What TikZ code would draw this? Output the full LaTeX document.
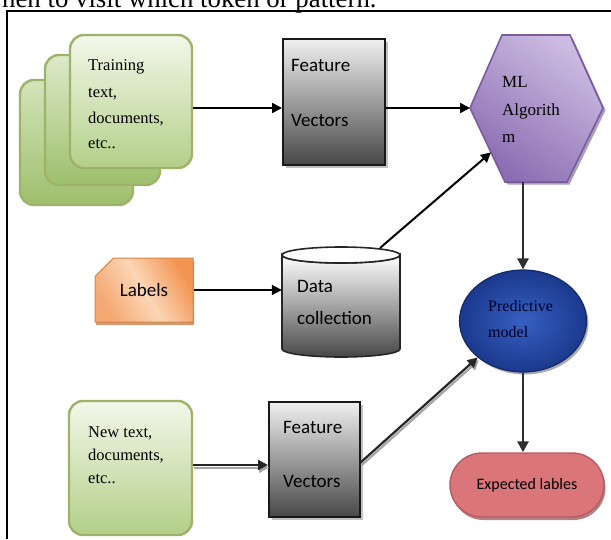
\documentclass[tikz,border=0pt]{standalone}
\usepackage{fontspec}
\setmainfont{Liberation Serif}
\newfontfamily\calfont{Carlito}
\usetikzlibrary{arrows.meta,shadows,shapes.geometric,shapes.misc,calc}

\definecolor{cardedge}{HTML}{9FB26A}
\definecolor{cardtop}{HTML}{F3F7EA}
\definecolor{cardbot}{HTML}{B3CF88}
\definecolor{backtop}{HTML}{D3E4BA}
\definecolor{backbot}{HTML}{9EBF6C}
\definecolor{hexlight}{HTML}{CDBCE2}
\definecolor{hexdark}{HTML}{8B6DB2}
\definecolor{hexedge}{HTML}{7A5C9E}
\definecolor{laborange}{HTML}{F29452}
\definecolor{labpeach}{HTML}{FBD6B6}
\definecolor{labedge}{HTML}{D98544}
\definecolor{pmin}{HTML}{3660C2}
\definecolor{pmout}{HTML}{1B398D}
\definecolor{pmedge}{HTML}{14296A}
\definecolor{elred}{HTML}{DA7679}
\definecolor{ellight}{HTML}{F6CFCF}
\definecolor{eledge}{HTML}{B85B5E}

\tikzset{
  conn/.style={line width=2pt, black, -{Triangle[length=10pt,width=10pt]}},
  vconn/.style={line width=2.5pt, black!82, -{Triangle[length=11pt,width=11pt]}},
  dconn/.style={line width=2.2pt, black!85, -{Triangle[length=10pt,width=10pt]},
    preaction={draw, line width=2.2pt, black!35, -{Triangle[length=10pt,width=10pt]},
      transform canvas={xshift=1.2pt, yshift=-2.6pt}}},
  serif/.style={font=\fontsize{16.5}{20}\selectfont, anchor=base west, inner sep=0pt},
  sans/.style={font=\calfont\fontsize{19}{22}\selectfont, anchor=base west, inner sep=0pt},
  card/.style={rectangle, rounded corners=14pt, draw=cardedge, line width=2.4pt,
    top color=cardtop, bottom color=cardbot, inner sep=0pt},
  backcard/.style={card, top color=backtop, bottom color=backbot},
  fvbox/.style={rectangle, draw=black!90, line width=2pt, inner sep=0pt,
    top color=black!6, middle color=black!32, bottom color=black!72,
    drop shadow={shadow xshift=3pt, shadow yshift=-3pt, fill=black!30, opacity=0.8}},
}

\begin{document}
\begin{tikzpicture}[x=1pt, y=-1pt]
\useasboundingbox (0,0) rectangle (611,539);
\begin{scope}
\clip (0,0) rectangle (611,539);

% running text of the page above the figure
\node[anchor=base west, inner sep=0pt, font=\fontsize{26.8}{30}\selectfont] (runtext) at (2,7)
  {hen to visit which token or pattern.};

% figure frame
\draw[line width=2pt] (7,539) -- (7,11) -- (611,11);

% ---------- training documents (stack of cards) ----------
\node[backcard, minimum width=113pt, minimum height=125pt] (card3) at (76.5,142.5) {};
\node[backcard, minimum width=115pt, minimum height=130pt,
      top color=backtop!70!cardtop] (card2) at (102.5,120) {};
\node[card, minimum width=122pt, minimum height=133pt] (card1) at (131,101.5) {};
\node[serif] (tr1) at (88,70) {Training};
\node[serif] (tr2) at (88,97) {text,};
\node[serif] (tr3) at (88,123) {documents,};
\node[serif] (tr4) at (88,148) {etc..};

% ---------- feature vectors (training) ----------
\node[fvbox, minimum width=102pt, minimum height=126pt] (fv1) at (334,102) {};
\node[sans] (fv1a) at (291,71) {Feature};
\node[sans] (fv1b) at (291,126) {Vectors};

% ---------- ML algorithm hexagon ----------
\coordinate (hl)  at (470,108);
\coordinate (htl) at (502,35);
\coordinate (htr) at (570,35);
\coordinate (hr)  at (603,108);
\coordinate (hbr) at (567,182);
\coordinate (hbl) at (505,182);
\fill[hexedge!80!black, opacity=0.55, transform canvas={xshift=2.5pt, yshift=-2.5pt}]
  (hl) -- (htl) -- (htr) -- (hr) -- (hbr) -- (hbl) -- cycle;
\shade[top color=hexlight, bottom color=hexdark, shading angle=-35, draw=hexedge, line width=1.6pt]
  (hl) -- (htl) -- (htr) -- (hr) -- (hbr) -- (hbl) -- cycle;
\node[font=\fontsize{17}{20}\selectfont, anchor=base west, inner sep=0pt] (ml1) at (502,87) {ML};
\node[font=\fontsize{17}{20}\selectfont, anchor=base west, inner sep=0pt] (ml2) at (502,115) {Algorith};
\node[font=\fontsize{17}{20}\selectfont, anchor=base west, inner sep=0pt] (ml3) at (502,142) {m};

% ---------- labels ----------
\node[chamfered rectangle, chamfered rectangle corners=north west,
      chamfered rectangle xsep=20pt, chamfered rectangle ysep=12pt,
      minimum width=98pt, minimum height=64pt, inner sep=0pt,
      draw=labedge, line width=1pt,
      left color=laborange, right color=laborange!70!labpeach, middle color=labpeach,
      shading angle=-60,
      drop shadow={shadow xshift=1pt, shadow yshift=-3pt, fill=labedge!85!black, opacity=0.7},
      font=\calfont\fontsize{19}{22}\selectfont] (lab) at (144,290) {Labels};

% ---------- data collection cylinder ----------
\shade[top color=white, middle color=black!28, bottom color=black!72, draw=black!85, line width=1.6pt]
  (282,255) -- (282,349) arc[start angle=180, end angle=0, x radius=59, y radius=8]
  -- (400,255) arc[start angle=0, end angle=180, x radius=59, y radius=8] -- cycle;
\filldraw[fill=white, draw=black!85, line width=1.6pt] (341,255) ellipse[x radius=59, y radius=8];
\node[minimum width=118pt, minimum height=110pt, inner sep=0pt] (dc) at (341,302) {};
\coordinate (dctop) at (380,248);
\node[sans] (dc1) at (297,292) {Data};
\node[sans] (dc2) at (297,324) {collection};

% ---------- predictive model ----------
\node[ellipse, minimum width=127pt, minimum height=102pt, inner sep=0pt,
      inner color=pmin, outer color=pmout, draw=pmedge, line width=1.2pt,
      drop shadow={shadow xshift=2pt, shadow yshift=-2.5pt, fill=black!55, opacity=0.6}] (pm) at (523,321) {};
\node[font=\fontsize{16}{20}\selectfont, text=black!85!blue, anchor=base west, inner sep=0pt] (pm1) at (488,311) {Predictive};
\node[font=\fontsize{16}{20}\selectfont, text=black!85!blue, anchor=base west, inner sep=0pt] (pm2) at (488,337) {model};

% ---------- new documents ----------
\node[card, minimum width=123pt, minimum height=134pt] (new) at (130.5,468) {};
\node[serif] (nw1) at (88,437) {New text,};
\node[serif] (nw2) at (88,460) {documents,};
\node[serif] (nw3) at (88,483) {etc..};

% ---------- feature vectors (new) ----------
\node[fvbox, minimum width=91pt, minimum height=115pt] (fv2) at (314.5,459.5) {};
\node[sans] (fv2a) at (283,433) {Feature};
\node[sans] (fv2b) at (283,487) {Vectors};

% ---------- expected labels ----------
\node[rounded rectangle, minimum width=154pt, minimum height=64pt, inner sep=0pt,
      draw=eledge, line width=1.4pt,
      top color=elred, middle color=ellight, bottom color=elred, shading angle=-30,
      drop shadow={shadow xshift=1.5pt, shadow yshift=-3pt, fill=eledge!80!black, opacity=0.7},
      font=\calfont\fontsize{16}{20}\selectfont] (el) at (527,485) {Expected lables};

% ---------- connectors ----------
\draw[conn] (card1.east |- hl) -- (fv1.west |- hl);
\draw[conn] (fv1.east |- hl) -- (hl);
\draw[conn] (dctop) -- ($(hl)!0.6!(hbl)$);
\draw[conn] (lab.east) -- (dc.west |- lab.east);
\draw[vconn] (pm.north |- hbl) -- (pm.north);
\draw[vconn] (pm.south) -- (pm.south |- el.north);
\coordinate (nv) at (0,465);
\draw[dconn] (new.east |- nv) -- (fv2.west |- nv);
\coordinate (fv2out) at (360,463);
\draw[dconn] (fv2out) -- (pm.south west);
\end{scope}
\end{tikzpicture}
\end{document}
